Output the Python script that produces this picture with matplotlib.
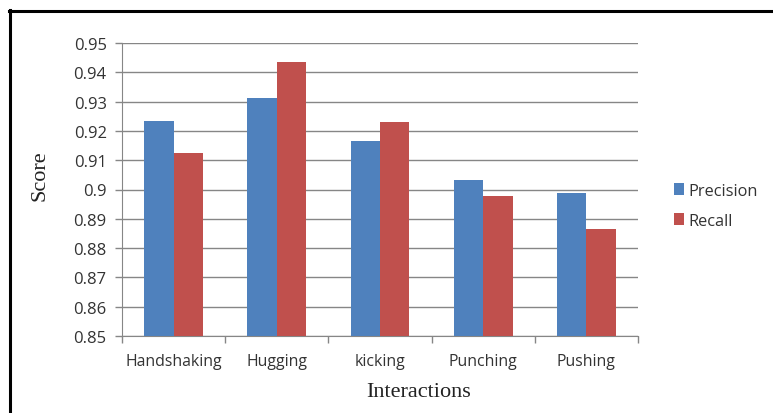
import matplotlib
matplotlib.use("Agg")
import matplotlib.pyplot as plt
import numpy as np
from matplotlib.lines import Line2D

categories = ["Handshaking", "Hugging", "kicking", "Punching", "Pushing"]
precision = [0.9234, 0.9311, 0.9167, 0.9032, 0.8989]
recall = [0.9124, 0.9434, 0.9230, 0.8979, 0.8864]
yticks = [0.85, 0.86, 0.87, 0.88, 0.89, 0.9, 0.91, 0.92, 0.93, 0.94, 0.95]
ytick_labels = ["0.85", "0.86", "0.87", "0.88", "0.89", "0.9", "0.91", "0.92", "0.93", "0.94", "0.95"]

W, H = 773, 414
fig = plt.figure(figsize=(W / 100, H / 100), dpi=100)
ax = fig.add_axes([122 / W, 1 - 337 / H, (638 - 122) / W, (337 - 44) / H])

blue = "#4F81BD"
red = "#C0504D"
grid_c = "#868686"
txt_c = "#333333"
bw = 1 / 3.5
x = np.arange(len(categories))
ax.bar(x - bw / 2, precision, bw, color=blue, label="Precision", zorder=3)
ax.bar(x + bw / 2, recall, bw, color=red, label="Recall", zorder=3)

ax.set_xlim(-0.5, len(categories) - 0.5)
ax.set_ylim(0.85, 0.95)
ax.set_yticks(yticks)
ax.set_yticklabels(ytick_labels, fontfamily="Open Sans", fontsize=12, color=txt_c)
ax.set_xticks(x)
ax.set_xticklabels(categories, fontfamily="Open Sans", fontsize=11.4, color=txt_c)
ax.tick_params(axis="x", length=0, pad=12)
ax.tick_params(axis="y", length=5, color=grid_c, width=1, pad=6)
# category boundary ticks
ax.set_xticks(np.arange(-0.5, len(categories)), minor=True)
ax.tick_params(axis="x", which="minor", length=5, color=grid_c, width=1)

ax.grid(axis="y", color=grid_c, linewidth=1, zorder=0)
for s in ["top", "right"]:
    ax.spines[s].set_visible(False)
ax.spines["left"].set_color(grid_c)
ax.spines["bottom"].set_color(grid_c)

ax.set_ylabel("Score", fontfamily="Liberation Serif", fontsize=16, color="#222222")
ax.yaxis.set_label_coords(-0.159, 0.55)
ax.yaxis.label.set_verticalalignment("center")
ax.set_xlabel("Interactions", fontfamily="Liberation Serif", fontsize=16, color="#222222")
ax.xaxis.set_label_coords(0.574, -0.19)
ax.xaxis.label.set_verticalalignment("center")

leg = fig.legend(loc="upper left", bbox_to_anchor=(666 / W, 1 - 176 / H),
                 frameon=False, prop={"family": "Open Sans", "size": 11.8},
                 handlelength=0.6, handleheight=0.75, handletextpad=0.25,
                 labelspacing=0.85, borderpad=0)
for t in leg.get_texts():
    t.set_color(txt_c)

# figure border lines (left and top)
fig.add_artist(Line2D([10 / W, 10 / W], [0, 1 - 11 / H], color="black", lw=2.2,
                      transform=fig.transFigure))
fig.add_artist(Line2D([9 / W, 1], [1 - 12 / H, 1 - 12 / H], color="black", lw=2.2,
                      transform=fig.transFigure))

fig.savefig("out.png", dpi=100)
